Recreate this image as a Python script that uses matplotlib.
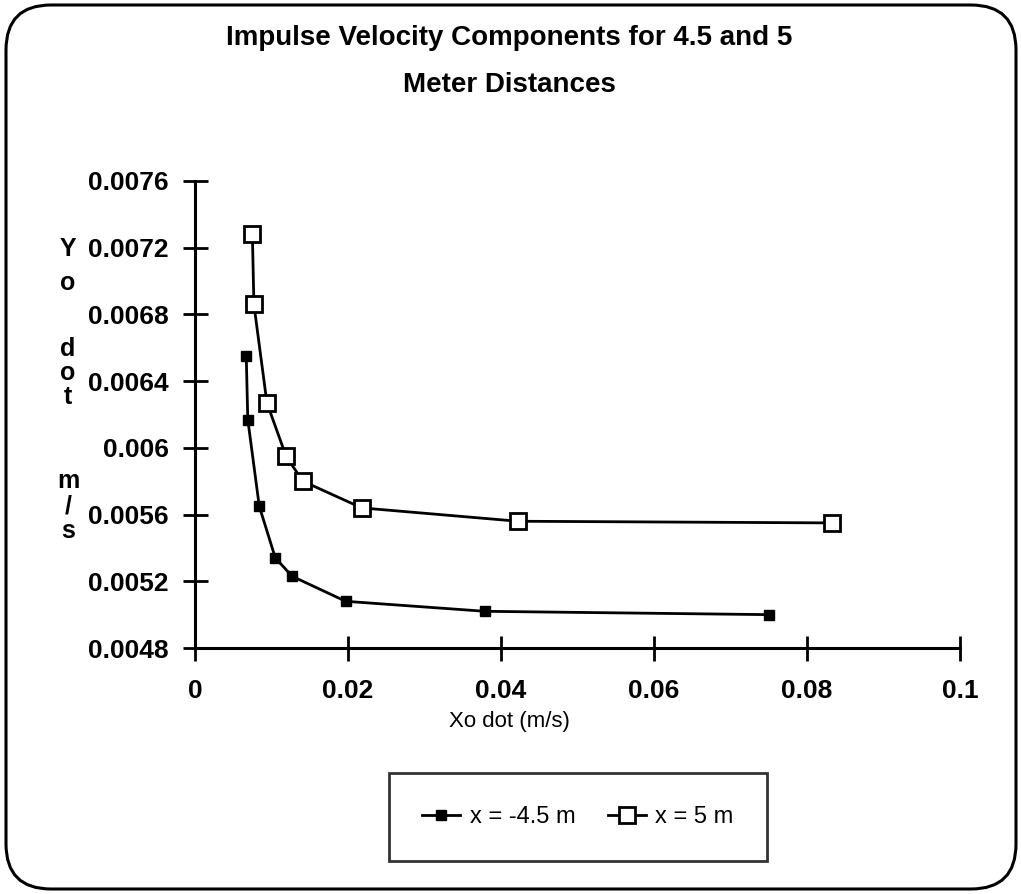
import numpy as np
import matplotlib.pyplot as plt
from matplotlib.patches import FancyBboxPatch

# x = -4.5 m series
xo_45 = [0.0067, 0.0069, 0.0084, 0.0105, 0.0127, 0.0197, 0.0379, 0.0750]
yo_45 = [0.00655, 0.00617, 0.00565, 0.00534, 0.00523, 0.00508, 0.00502, 0.00500]
# x = 5 m series
xo_5 = [0.0075, 0.0077, 0.0094, 0.0119, 0.0141, 0.0218, 0.0422, 0.0833]
yo_5 = [0.00728, 0.00686, 0.00627, 0.00595, 0.00580, 0.00564, 0.00556, 0.00555]

xticks = [0, 0.02, 0.04, 0.06, 0.08, 0.1]
xticklabels = ['0', '0.02', '0.04', '0.06', '0.08', '0.1']
yticks = [0.0048, 0.0052, 0.0056, 0.006, 0.0064, 0.0068, 0.0072, 0.0076]
yticklabels = ['0.0048', '0.0052', '0.0056', '0.006', '0.0064', '0.0068', '0.0072', '0.0076']

plt.rcParams['font.family'] = ['Liberation Sans', 'DejaVu Sans']

fig = plt.figure(figsize=(10.21, 8.94), dpi=100)
ax = fig.add_axes([195/1021, 1-648/894, (960-195)/1021, (648-181)/894])

ax.plot(xo_45, yo_45, color='black', lw=2, marker='s', ms=7,
        mfc='black', mec='black', label='x = -4.5 m')
ax.plot(xo_5, yo_5, color='black', lw=2, marker='s', ms=11,
        mfc='white', mec='black', mew=2, label='x = 5 m')

ax.set_xlim(0, 0.1)
ax.set_ylim(0.0048, 0.0076)
ax.set_xticks(xticks)
ax.set_xticklabels(xticklabels, fontsize=19, fontweight='bold')
ax.set_yticks(yticks)
ax.set_yticklabels(yticklabels, fontsize=19, fontweight='bold')
ax.tick_params(direction='inout', length=18, width=2, pad=10)
ax.tick_params(axis='x', pad=13)
for s in ['top', 'right']:
    ax.spines[s].set_visible(False)
for s in ['left', 'bottom']:
    ax.spines[s].set_linewidth(2.2)

fig.text(509/1021, 1-38/894, 'Impulse Velocity Components for 4.5 and 5',
         ha='center', va='center', fontsize=20, fontweight='bold')
fig.text(509/1021, 1-85/894, 'Meter Distances',
         ha='center', va='center', fontsize=20, fontweight='bold')

fig.text(509/1021, 1-721/894, 'Xo dot (m/s)', ha='center', va='center', fontsize=16)

# stacked y label letters
ylab = ['Y', 'o', 'd', 'o', 't', 'm', '/', 's']
ypos = [249, 283, 349, 373, 397, 481, 506, 531]
for ch, yp in zip(ylab, ypos):
    fig.text(68/1021, 1-yp/894, ch, ha='center', va='center',
             fontsize=18, fontweight='bold')

leg = ax.legend(loc='center', bbox_to_anchor=(578/1021, 1-817/894),
                bbox_transform=fig.transFigure, ncol=2, fontsize=17,
                frameon=True, fancybox=False, handlelength=1.6,
                handletextpad=0.4, columnspacing=1.4, borderpad=1.4,
                borderaxespad=0)
leg.get_frame().set_edgecolor('black')
leg.get_frame().set_linewidth(2)

border = FancyBboxPatch((0.06, 0.05), 10.21-0.11, 8.94-0.10,
                        boxstyle='round,pad=0,rounding_size=0.45',
                        transform=fig.dpi_scale_trans, fill=False,
                        ec='black', lw=2.2)
fig.patches.append(border)

plt.savefig('out.png', dpi=100)
